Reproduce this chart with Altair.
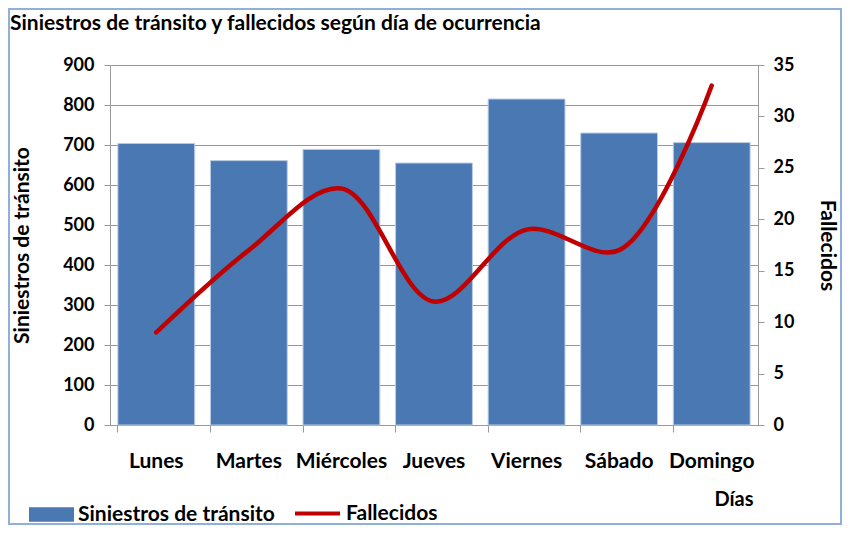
import altair as alt
import pandas as pd

dias = ["Lunes", "Martes", "Miércoles", "Jueves", "Viernes", "Sábado", "Domingo"]
siniestros = [704, 661, 689, 655, 815, 730, 706]
fallecidos = [9, 17, 23, 12, 19, 17, 33]

FONT = "Lato"
BLUE = "#4a78b2"
RED = "#c00000"

df = pd.DataFrame({
    "dia": dias,
    "siniestros": siniestros,
    "fallecidos": fallecidos,
    "sb": ["Siniestros de tránsito"] * len(dias),
    "sl": ["Fallecidos"] * len(dias),
})

base = alt.Chart(df)

x_enc = alt.X(
    "dia:N",
    sort=dias,
    scale=alt.Scale(paddingInner=0.17, paddingOuter=0.085),
    axis=alt.Axis(
        title="Días", titleAnchor="end", titleAlign="right", titleX=643,
        titlePadding=18, titleFontSize=20,
        labelAngle=0, labelPadding=18, labelFontSize=21, tickSize=7, bandPosition=0,
        domainColor="#999", tickColor="#999", labelOverlap=False,
    ),
)

bars = base.mark_bar(stroke="#b9cde5", strokeWidth=1).encode(
    x=x_enc,
    y=alt.Y(
        "siniestros:Q",
        scale=alt.Scale(domain=[0, 900]),
        axis=alt.Axis(
            title="Siniestros de tránsito", values=list(range(0, 1000, 100)),
            grid=True, gridColor="#969696", domainColor="#999", tickColor="#999",
            tickSize=6, labelPadding=10, titlePadding=30,
        ),
    ),
    fill=alt.Fill(
        "sb:N",
        scale=alt.Scale(domain=["Siniestros de tránsito"], range=[BLUE]),
        legend=alt.Legend(
            title=None, orient="none", legendX=-81, legendY=427,
            symbolType="M-1,-0.32H1V0.32H-1Z", symbolSize=2025,
            symbolStrokeWidth=0, labelOffset=4, labelLimit=400,
        ),
    ),
)

line = base.mark_line(strokeWidth=4.5, interpolate="catmull-rom", strokeCap="round").encode(
    x=alt.X("dia:N", sort=dias),
    y=alt.Y(
        "fallecidos:Q",
        scale=alt.Scale(domain=[0, 35]),
        axis=alt.Axis(
            title="Fallecidos", orient="right", values=list(range(0, 40, 5)),
            grid=False, domainColor="#999", tickColor="#999",
            tickSize=6, labelPadding=9, titlePadding=23,
        ),
    ),
    stroke=alt.Stroke(
        "sl:N",
        scale=alt.Scale(domain=["Fallecidos"], range=[RED]),
        legend=alt.Legend(
            title=None, orient="none", legendX=183, legendY=424,
            symbolType="M-1,0H1", symbolSize=2025, symbolStrokeWidth=4,
            labelOffset=4, labelLimit=400,
        ),
    ),
)

frame = alt.Chart(pd.DataFrame({"a": [0]})).mark_rect(
    fill="transparent", stroke="#8fb0da", strokeWidth=2
).encode(
    x=alt.value(-101), x2=alt.value(731), y=alt.value(-56), y2=alt.value(459)
)

chart = alt.layer(bars, line, frame).resolve_scale(
    y="independent", fill="independent", stroke="independent"
).properties(
    width=648, height=360, padding=0,
    title=alt.TitleParams(
        "Siniestros de tránsito y fallecidos según día de ocurrencia",
        anchor="start", frame="group", dx=-100, offset=0, dy=26,
        fontSize=21, font=FONT, fontWeight="bold", color="black",
    ),
).configure_axis(
    labelFont=FONT, labelFontSize=18, labelFontWeight="bold", labelColor="black",
    titleFont=FONT, titleFontSize=21, titleFontWeight="bold", titleColor="black",
).configure_legend(
    labelFont=FONT, labelFontSize=21, labelFontWeight="bold", labelColor="black",
    padding=0,
).configure_view(stroke=None)

chart.save("out.html", embed_options={"renderer": "svg", "actions": False})
